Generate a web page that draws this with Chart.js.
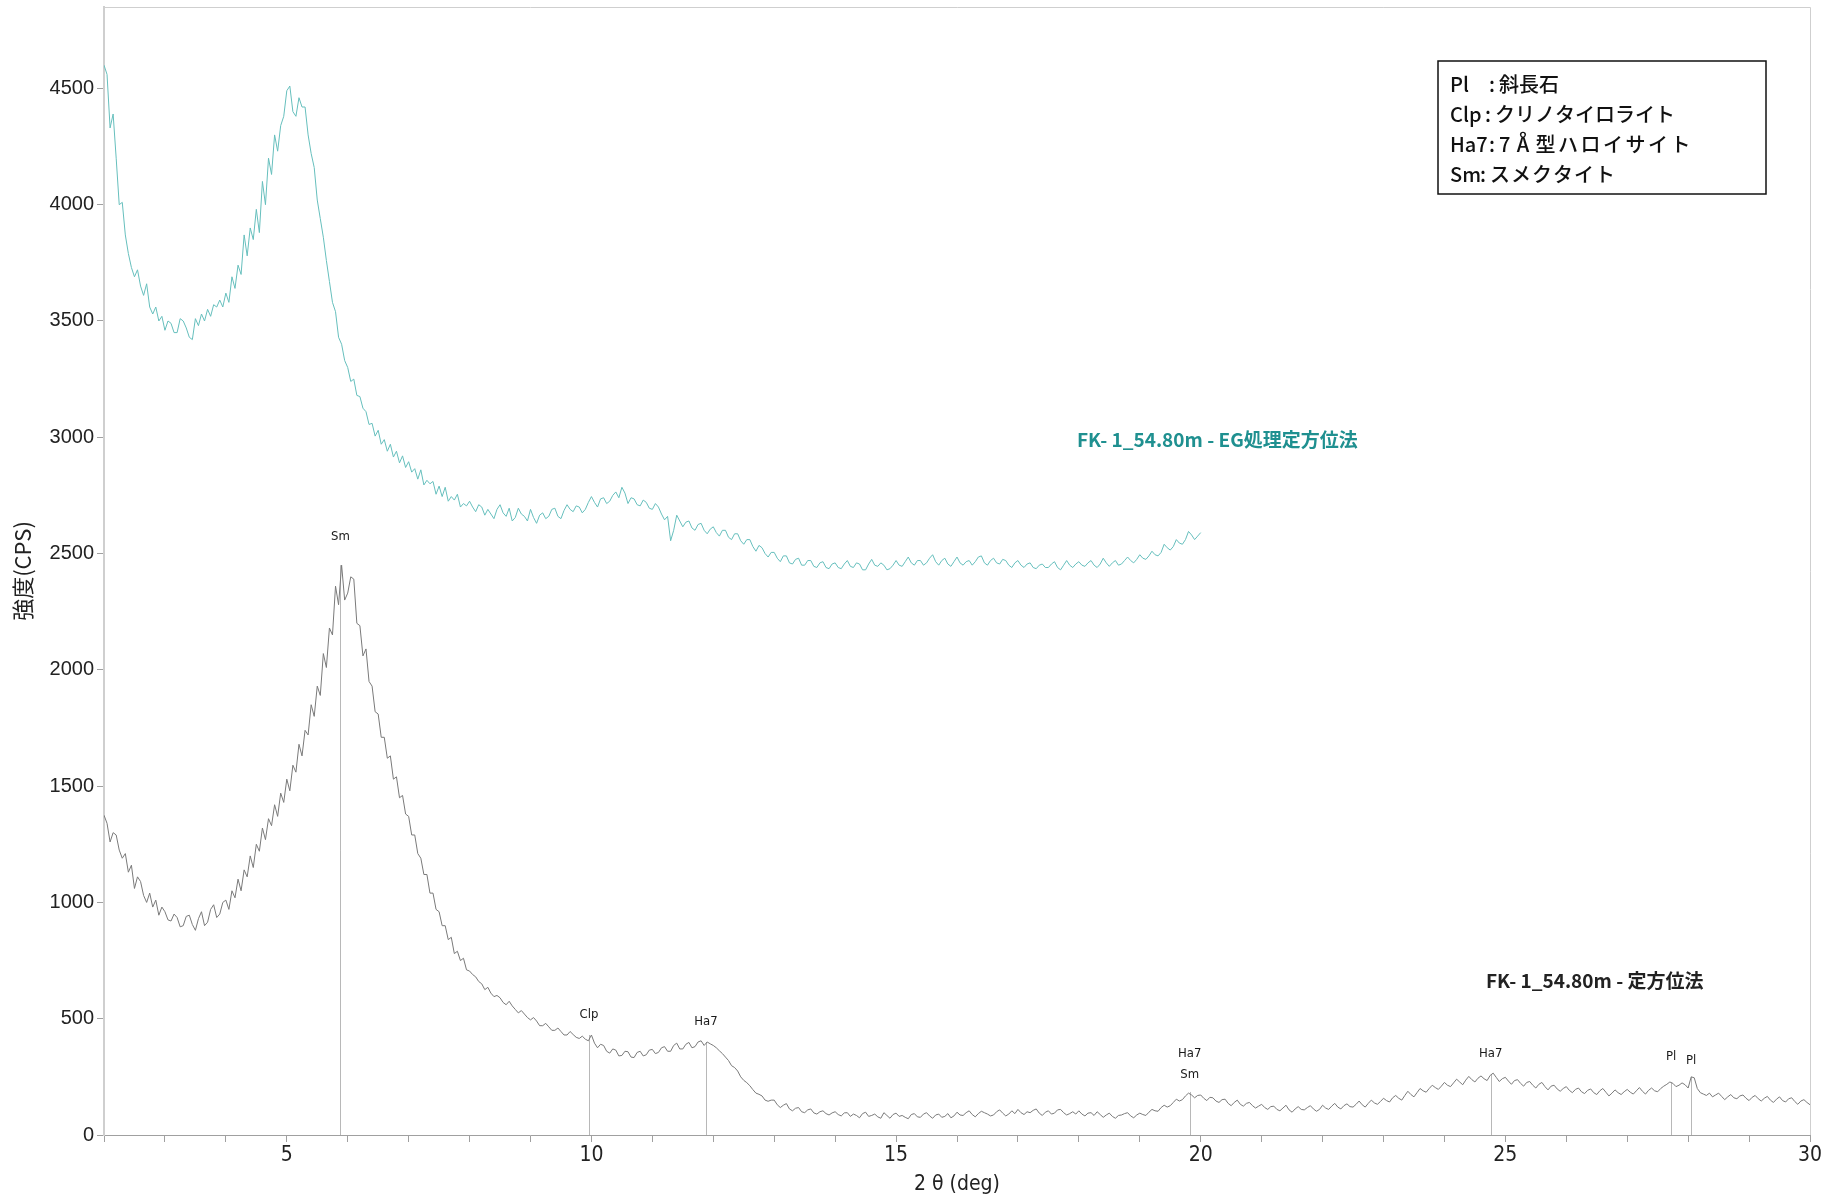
<!DOCTYPE html>
<html><head><meta charset="utf-8">
<script src="https://cdn.jsdelivr.net/npm/chart.js@4.4.1/dist/chart.umd.min.js"></script>
<style>html,body{margin:0;padding:0;background:#fff;}canvas{display:block}</style>
</head><body>
<canvas id="c" width="1834" height="1200"></canvas>
<script>
// 2θ sampling grid (deg)
const ANGLE_START = 2.0;
const ANGLE_STEP = 0.05;

// FK-1_54.80m 定方位法 (CPS), 2.00 … 30.00 deg, one row per degree
const orientedCps = [
  1375,1340,1260,1300,1290,1225,1190,1210,1130,1160,1060,1110,1090,1030,1000,1040,980,1010,945,980,
  960,925,920,950,935,895,900,940,945,905,880,930,960,900,915,970,990,935,950,1000,
  1010,970,1050,1020,1100,1050,1140,1110,1200,1150,1250,1220,1320,1270,1360,1330,1420,1370,1470,1430,
  1530,1480,1590,1560,1680,1630,1740,1720,1850,1800,1930,1890,2070,2010,2180,2150,2360,2280,2450,2300,
  2330,2400,2390,2200,2190,2060,2090,1950,1930,1820,1810,1710,1710,1620,1630,1530,1540,1450,1460,1380,
  1370,1290,1290,1210,1190,1120,1120,1040,1040,970,960,900,900,840,850,780,790,750,760,710,
  705,690,680,660,650,625,635,610,595,600,590,570,560,575,555,540,525,535,520,505,
  495,505,490,470,470,480,465,450,450,460,445,430,430,445,432,420,415,425,412,405,
  430,395,375,390,385,360,352,370,365,340,342,360,358,335,333,355,360,340,345,365,
  368,350,355,375,380,360,360,385,395,370,370,390,398,375,380,400,405,385,400,392,
  385,375,362,350,335,320,298,290,275,250,235,225,212,195,180,175,168,150,145,150,
  150,130,118,128,135,112,104,115,118,100,96,108,112,95,90,100,104,92,86,95,
  100,88,82,95,96,80,90,84,74,92,98,80,84,90,78,72,96,84,72,88,
  94,80,84,76,70,88,92,78,76,90,96,82,72,86,90,76,80,92,74,82,
  98,86,84,96,104,88,78,92,102,96,90,82,86,100,108,94,82,90,104,92,
  110,96,88,100,96,106,112,94,84,98,104,90,94,108,110,96,86,92,100,90,
  104,90,82,94,96,84,100,88,76,86,94,80,72,84,86,92,96,82,74,86,
  94,88,84,98,110,104,102,118,128,120,126,140,154,146,152,168,180,172,160,170,
  172,158,148,162,160,146,140,152,154,136,126,140,150,132,124,136,140,126,116,124,
  132,118,110,122,124,110,104,116,128,108,98,112,122,110,108,118,126,112,102,110,
  128,116,110,124,136,120,112,126,134,122,120,132,146,130,120,136,150,138,132,144,
  158,148,142,160,170,158,150,170,188,174,164,182,200,190,184,200,214,204,196,210,
  226,214,208,224,240,228,216,236,252,238,228,244,254,242,234,256,266,248,230,242,
  248,232,218,234,238,222,210,226,230,214,202,218,226,208,194,210,214,198,188,200,
  208,192,182,196,202,186,178,192,198,182,174,190,200,184,168,180,194,182,174,186,
  196,184,176,190,204,188,176,192,202,190,186,200,210,218,228,222,208,214,224,216,
  202,250,246,200,182,176,170,180,164,172,180,166,152,164,174,160,156,168,172,158,
  148,162,170,156,146,158,166,150,140,154,164,148,142,156,160,144,132,146,152,140,
  130
];

// FK-1_54.80m EG処理定方位法 (CPS), 2.00 … 20.00 deg
const egCps = [
  4600,4560,4330,4390,4200,4000,4010,3870,3790,3730,3690,3720,3650,3610,3660,3560,3530,3560,3500,3520,
  3460,3500,3490,3450,3450,3510,3500,3470,3430,3420,3510,3480,3530,3500,3550,3520,3570,3560,3590,3560,
  3620,3580,3690,3640,3740,3700,3870,3780,3900,3850,3980,3880,4100,4000,4200,4130,4300,4230,4340,4380,
  4490,4510,4400,4380,4460,4420,4420,4300,4220,4160,4020,3940,3860,3760,3670,3580,3540,3430,3400,3330,
  3300,3240,3250,3180,3175,3125,3110,3055,3060,3005,3030,2970,2990,2940,2970,2915,2940,2890,2920,2870,
  2895,2850,2865,2820,2860,2795,2815,2800,2810,2755,2790,2745,2785,2725,2745,2730,2755,2700,2715,2705,
  2725,2700,2680,2710,2700,2665,2690,2670,2650,2690,2710,2675,2660,2695,2640,2655,2695,2670,2660,2640,
  2690,2655,2630,2665,2675,2650,2660,2690,2695,2660,2650,2685,2710,2690,2680,2705,2700,2675,2690,2720,
  2745,2720,2700,2735,2740,2715,2725,2750,2765,2740,2785,2760,2715,2740,2735,2710,2705,2730,2720,2695,
  2690,2715,2700,2670,2645,2660,2555,2600,2665,2640,2615,2635,2640,2610,2600,2625,2630,2600,2585,2605,
  2615,2590,2575,2600,2600,2570,2560,2585,2585,2555,2540,2560,2560,2530,2510,2535,2525,2500,2485,2505,
  2505,2480,2465,2490,2490,2460,2455,2475,2480,2450,2450,2470,2470,2445,2440,2460,2465,2440,2435,2455,
  2460,2440,2435,2455,2470,2445,2440,2460,2455,2430,2430,2455,2475,2450,2445,2460,2450,2430,2435,2450,
  2470,2450,2445,2465,2485,2460,2450,2470,2470,2450,2460,2480,2495,2465,2450,2470,2480,2455,2445,2465,
  2485,2460,2450,2465,2470,2450,2465,2485,2490,2460,2450,2470,2480,2460,2455,2475,2470,2450,2440,2460,
  2470,2450,2440,2455,2460,2440,2435,2450,2455,2440,2440,2455,2465,2440,2430,2450,2470,2450,2440,2455,
  2465,2450,2445,2460,2470,2450,2440,2455,2480,2460,2445,2460,2470,2450,2455,2470,2485,2470,2460,2475,
  2495,2480,2475,2490,2510,2495,2490,2505,2540,2525,2515,2530,2560,2545,2540,2560,2595,2580,2560,2575,
  2590
];

// identified peaks on the 定方位法 pattern
const peakAngles = [5.88, 9.96, 11.88, 19.82, 24.76, 27.72, 28.05];
const peakTops   = [2450, 430, 400, 185, 262, 225, 250];
const peakLabels = [["Sm"], ["Clp"], ["Ha7"], ["Ha7", "Sm"], ["Ha7"], ["Pl"], ["Pl"]];

// axis ticks
const yTickValues = [0, 500, 1000, 1500, 2000, 2500, 3000, 3500, 4000, 4500];
const xLabelEvery = 5;

const seriesNames = ["FK- 1_54.80m - 定方位法", "FK- 1_54.80m - EG処理定方位法"];
const keyCodes = ["Pl", "Clp", "Ha7", "Sm"];
const keyNames = ["斜長石", "クリノタイロライト", "7\u212B型ハロイサイト", "スメクタイト"];

const xTitle = "2 θ (deg)";
const yTitle = "強度(CPS)";

function toPoints(arr) {
  return arr.map((v, i) => ({ x: +(ANGLE_START + i * ANGLE_STEP).toFixed(2), y: v }));
}

const CJK = '"Noto Sans CJK JP", "Noto Sans", sans-serif';
const NARROW = '"Liberation Sans Narrow", "DejaVu Sans Condensed", "Liberation Sans", sans-serif';
// style-only offsets (px)
const peakLabelGap = [29, 20, 20, 17, 20, 26, 16];
const keyColonX = [42, 38, 42, 33];
const keySpacing = ['0px', '0px', '2.5px', '1px'];

const overlay = {
  id: 'overlay',
  beforeDatasetsDraw(chart) {
    const { ctx, chartArea: a, scales: { x, y } } = chart;
    ctx.save();
    ctx.strokeStyle = '#b8b8b8';
    ctx.lineWidth = 1;
    peakAngles.forEach((ang, i) => {
      const px = Math.round(x.getPixelForValue(ang)) + 0.5;
      ctx.beginPath();
      ctx.moveTo(px, y.getPixelForValue(0));
      ctx.lineTo(px, y.getPixelForValue(peakTops[i]));
      ctx.stroke();
    });
    ctx.strokeStyle = '#cfcfcf';
    ctx.beginPath();
    ctx.moveTo(a.left, a.top + 0.5);
    ctx.lineTo(a.right + 0.5, a.top + 0.5);
    ctx.lineTo(a.right + 0.5, a.bottom);
    ctx.stroke();
    ctx.restore();
  },
  afterDatasetsDraw(chart) {
    const { ctx, scales: { x, y } } = chart;
    ctx.save();
    ctx.fillStyle = '#1a1a1a';
    ctx.font = '13px "DejaVu Sans Condensed", "Liberation Sans Narrow", sans-serif';
    ctx.textAlign = 'center';
    ctx.textBaseline = 'middle';
    peakAngles.forEach((ang, i) => {
      const px = x.getPixelForValue(ang);
      const top = y.getPixelForValue(peakTops[i]);
      const lines = peakLabels[i];
      lines.forEach((t, j) => {
        ctx.fillText(t, px, top - peakLabelGap[i] - (lines.length - 1 - j) * 21);
      });
    });
    ctx.textAlign = 'left';
    ctx.font = 'bold 19px ' + CJK;
    ctx.fillStyle = '#1f9090';
    ctx.fillText(seriesNames[1], 1077, 440);
    ctx.fillStyle = '#222';
    ctx.fillText(seriesNames[0], 1486, 981);
    ctx.strokeStyle = '#111';
    ctx.lineWidth = 1.5;
    ctx.strokeRect(1438, 61, 328, 133);
    ctx.fillStyle = '#111';
    ctx.font = '500 20px ' + CJK;
    keyCodes.forEach((code, i) => {
      const ty = 84 + i * 30.3;
      ctx.letterSpacing = '0px';
      ctx.textAlign = 'left';
      ctx.fillText(code, 1450, ty);
      ctx.textAlign = 'center';
      ctx.fillText(':', 1450 + keyColonX[i], ty);
      ctx.textAlign = 'left';
      ctx.letterSpacing = keySpacing[i];
      ctx.fillText(keyNames[i], 1450 + keyColonX[i] + 7, ty);
    });
    ctx.letterSpacing = '0px';
    ctx.restore();
  }
};

new Chart(document.getElementById('c'), {
  type: 'line',
  data: {
    datasets: [
      { label: seriesNames[1], data: toPoints(egCps), borderColor: '#66bfbd', borderWidth: 1, pointRadius: 0, tension: 0 },
      { label: seriesNames[0], data: toPoints(orientedCps), borderColor: '#7a7a7a', borderWidth: 1, pointRadius: 0, tension: 0 }
    ]
  },
  options: {
    responsive: false,
    animation: false,
    devicePixelRatio: 1,
    layout: { padding: { top: 7, right: 24, bottom: 0, left: 0 } },
    plugins: { legend: { display: false }, tooltip: { enabled: false } },
    scales: {
      x: {
        type: 'linear', min: 2, max: 30,
        afterFit(s) { s.height = 65; s.paddingLeft = 0; s.paddingRight = 0; },
        ticks: {
          stepSize: 1, autoSkip: false, maxRotation: 0, includeBounds: false, padding: 1,
          color: '#222', font: { family: NARROW, size: 21 },
          callback: v => (v % xLabelEvery === 0 ? String(v) : '')
        },
        grid: { drawOnChartArea: false, drawTicks: true, tickLength: 7, color: '#a0a0a0' },
        border: { display: true, color: '#a0a0a0', width: 1 },
        title: { display: true, text: xTitle, color: '#222', font: { family: NARROW, size: 21 }, padding: { top: 0, bottom: 3 } }
      },
      y: {
        type: 'linear', min: 0, max: 4850,
        afterFit(s) { s.width = 104; s.paddingTop = 0; s.paddingBottom = 0; },
        afterBuildTicks(s) { s.ticks = yTickValues.map(v => ({ value: v })); },
        ticks: { autoSkip: false, padding: 3, color: '#222', font: { family: '"Liberation Sans", Arial, sans-serif', size: 20 }, callback: v => String(v) },
        grid: { drawOnChartArea: false, drawTicks: true, tickLength: 7, color: '#a0a0a0' },
        border: { display: true, color: '#cfcfcf', width: 2 },
        title: { display: true, text: yTitle, color: '#222', font: { family: CJK, size: 22 }, padding: { top: 9, bottom: 0 } }
      }
    }
  },
  plugins: [overlay]
});
</script>
</body></html>
